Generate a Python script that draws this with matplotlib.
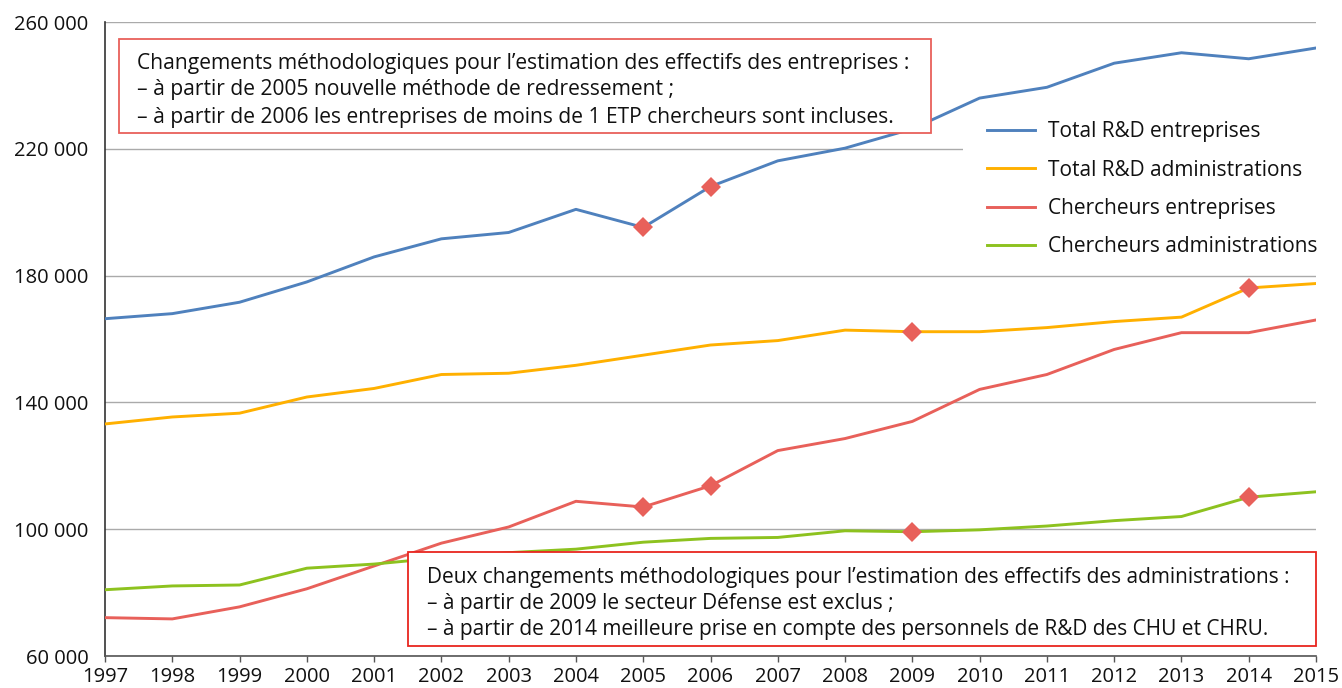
import matplotlib
matplotlib.use("Agg")
import matplotlib.pyplot as plt
from matplotlib.patches import Rectangle
from matplotlib.ticker import FuncFormatter, FixedLocator

plt.rcParams['font.family'] = ['Open Sans', 'DejaVu Sans']

years = list(range(1997, 2016))
total_rd_entreprises = [166400, 168000, 171600, 178000, 185900, 191600, 193600, 200900,
                        195200, 208100, 216200, 220200, 226300, 236000, 239400, 247000,
                        250300, 248400, 251800]
total_rd_administrations = [133200, 135400, 136600, 141700, 144400, 148800, 149200, 151700,
                            154900, 158100, 159500, 162800, 162300, 162300, 163600, 165500,
                            166900, 176100, 177500]
chercheurs_entreprises = [72100, 71700, 75500, 81200, 88400, 95600, 100700, 108800,
                          107000, 113700, 124800, 128600, 134000, 144100, 148800, 156700,
                          162000, 162000, 166000]
chercheurs_administrations = [80900, 82100, 82400, 87700, 89000, 91000, 92600, 93700,
                              95900, 97100, 97400, 99500, 99200, 99800, 101000, 102700,
                              104000, 110100, 111800]

series = [
    ("Total R&D entreprises", total_rd_entreprises, "#4f81bd", [2005, 2006]),
    ("Total R&D administrations", total_rd_administrations, "#ffb000", [2009, 2014]),
    ("Chercheurs entreprises", chercheurs_entreprises, "#e8605a", [2005, 2006]),
    ("Chercheurs administrations", chercheurs_administrations, "#8dc21f", [2009, 2014]),
]
marker_color = "#e8605a"

y_ticks = [60000, 100000, 140000, 180000, 220000, 260000]

note_top = ["Changements méthodologiques pour l\u2019estimation des effectifs des entreprises :",
            "\u2013 à partir de 2005 nouvelle méthode de redressement ;",
            "\u2013 à partir de 2006 les entreprises de moins de 1 ETP chercheurs sont incluses."]
note_bottom = ["Deux changements méthodologiques pour l\u2019estimation des effectifs des administrations :",
               "\u2013 à partir de 2009 le secteur Défense est exclus ;",
               "\u2013 à partir de 2014 meilleure prise en compte des personnels de R&D des CHU et CHRU."]

W, H = 1342, 688
AX_L, AX_R, AX_T, AX_B = 105, 1316, 22, 656

fig = plt.figure(figsize=(W / 100, H / 100), dpi=100)
ax = fig.add_axes([AX_L / W, 1 - AX_B / H, (AX_R - AX_L) / W, (AX_B - AX_T) / H])


def fx(px):
    return (px - AX_L) / (AX_R - AX_L)


def fy(py):
    return (AX_B - py) / (AX_B - AX_T)


handles = []
for label, vals, color, mk_years in series:
    h, = ax.plot(years, vals, color=color, lw=2.1, label=label, zorder=3)
    handles.append(h)
    my = [vals[years.index(y)] for y in mk_years]
    ax.plot(mk_years, my, linestyle='none', marker='D', ms=10.5, color=marker_color,
            mec=marker_color, mew=0, zorder=4)

ax.set_xlim(1997, 2015)
ax.set_ylim(60000, 260000)
ax.xaxis.set_major_locator(FixedLocator(years))
ax.set_xticklabels([str(y) for y in years])
ax.yaxis.set_major_locator(FixedLocator(y_ticks))
ax.yaxis.set_major_formatter(FuncFormatter(lambda v, p: f"{int(v):,}".replace(",", " ")))

ax.grid(axis='y', color='#aaaaaa', lw=1.0)
ax.set_axisbelow(True)
for s in ['top', 'right']:
    ax.spines[s].set_visible(False)
ax.spines['left'].set_color('#333333')
ax.spines['bottom'].set_color('#555555')
ax.spines['left'].set_linewidth(1.2)
ax.spines['bottom'].set_linewidth(1.2)
ax.tick_params(axis='y', length=0, labelsize=14.5, pad=12, colors='#111111')
ax.tick_params(axis='x', length=4.5, width=1, direction='out', labelsize=14.5, pad=3.5,
               colors='#111111', color='#555555')


def box(x0, x1, y0, y1, ec, lines, tx, tys, fs):
    r = Rectangle((fx(x0), fy(y1)), fx(x1) - fx(x0), fy(y0) - fy(y1), transform=ax.transAxes,
                  fc='white', ec=ec, lw=1.3, zorder=5, clip_on=False)
    ax.add_patch(r)
    for line, ty in zip(lines, tys):
        ax.text(fx(tx), fy(ty), line, transform=ax.transAxes,
                ha='left', va='center', fontsize=fs, color='#111111', zorder=6)


box(119, 931, 39, 133, '#e8605a', note_top, 137, [63, 90, 117], 15.1)
box(408, 1316, 551.5, 645.5, '#e8251f', note_bottom, 427, [578, 604, 630], 15.0)

# white area behind the legend (hides the gridline there)
ax.add_patch(Rectangle((fx(963), fy(262)), fx(AX_R) - fx(963), fy(112) - fy(262),
                       transform=ax.transAxes, fc='white', ec='none', zorder=1))

leg = ax.legend(handles=handles, loc='upper left', bbox_to_anchor=(fx(987), fy(121)),
                frameon=False, fontsize=15, handlelength=2.3, handletextpad=0.65,
                labelspacing=0.84, borderaxespad=0, borderpad=0)
for t in leg.get_texts():
    t.set_color('#111111')
for ln in leg.get_lines():
    ln.set_linewidth(2.1)

fig.savefig("out.png", dpi=100)
